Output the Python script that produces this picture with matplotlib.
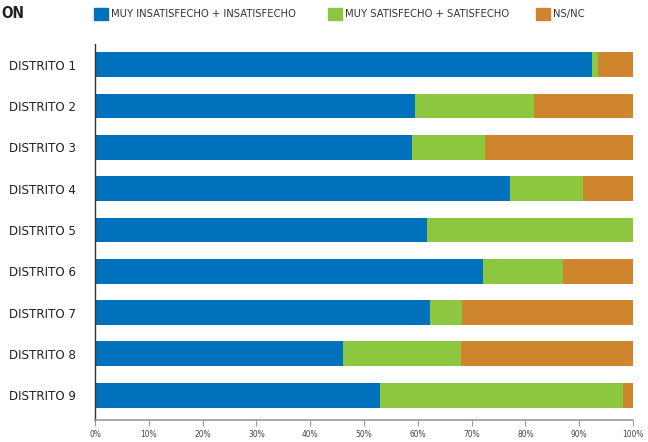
import matplotlib.pyplot as plt
from matplotlib.patches import Rectangle

districts = ["DISTRITO 1", "DISTRITO 2", "DISTRITO 3", "DISTRITO 4", "DISTRITO 5",
             "DISTRITO 6", "DISTRITO 7", "DISTRITO 8", "DISTRITO 9"]
insatisfecho = [92.4, 59.5, 59.0, 77.1, 61.7, 72.2, 62.3, 46.1, 53.0]
satisfecho = [1.1, 22.1, 13.4, 13.6, 38.3, 14.8, 6.0, 22.0, 45.2]
nsnc = [6.5, 18.4, 27.6, 9.3, 0.0, 13.0, 31.7, 31.9, 1.8]
series_names = ["MUY INSATISFECHO + INSATISFECHO", "MUY SATISFECHO + SATISFECHO", "NS/NC"]
xticks = [0, 10, 20, 30, 40, 50, 60, 70, 80, 90, 100]

colors = ["#0071BC", "#8DC63F", "#CF842E"]
plt.rcParams['font.family'] = ['DejaVu Sans']
plt.rcParams['font.stretch'] = 'condensed'

fig = plt.figure(figsize=(6.48, 4.42), dpi=100)
ax = fig.add_axes([95 / 648, 1 - 420 / 442, 538 / 648, 376 / 442])

y = list(range(len(districts)))
left = [0] * len(districts)
for vals, col in zip([insatisfecho, satisfecho, nsnc], colors):
    ax.barh(y, vals, left=left, height=0.6, color=col, linewidth=0)
    left = [l + v for l, v in zip(left, vals)]

ax.set_xlim(0, 100)
ax.set_ylim(8.6, -0.5)
ax.set_yticks(y)
ax.set_yticklabels(districts, fontsize=9.5, color="#222222", stretch='condensed')
ax.tick_params(axis='y', length=0, pad=13.5)
ax.set_xticks(xticks)
ax.set_xticklabels([f"{t}%" for t in xticks], fontsize=6, color="#444444",
                   stretch='condensed')
ax.tick_params(axis='x', length=4, color="#999999", width=0.8, pad=3)

for s in ["top", "right"]:
    ax.spines[s].set_visible(False)
ax.spines["left"].set_color("#333333")
ax.spines["left"].set_linewidth(1.0)
ax.spines["bottom"].set_color("#999999")
ax.spines["bottom"].set_linewidth(1.2)

# title fragment at left edge
fig.text(1 / 648, 1 - 14 / 442, "ON", fontsize=11, fontweight="bold",
         va="center", ha="left", color="#222222", stretch='condensed')

# legend along the top
legend_x = [94, 328, 536]
for lx, name, col in zip(legend_x, series_names, colors):
    fig.patches.append(Rectangle((lx / 648, 1 - 20 / 442), 14 / 648, 12 / 442,
                                 transform=fig.transFigure, color=col))
    fig.text((lx + 17) / 648, 1 - 14 / 442, name, fontsize=8,
             va="center", ha="left", color="#333333", stretch='condensed')

fig.savefig("out.png", dpi=100)
